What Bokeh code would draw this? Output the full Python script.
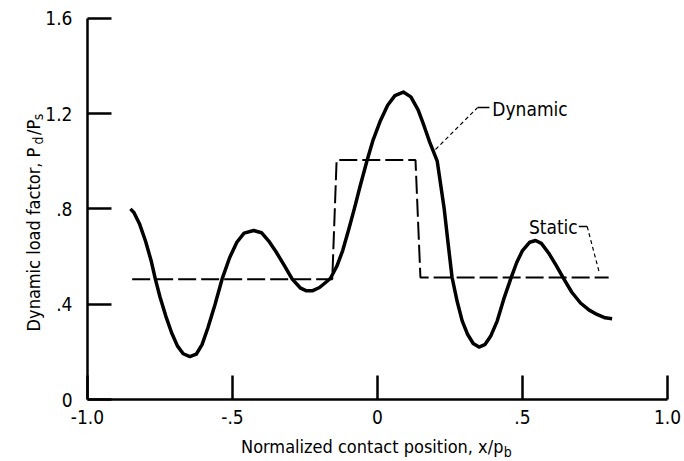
import math
from bokeh.plotting import figure
from bokeh.models import FixedTicker, Label, Range1d
from bokeh.core.properties import value
from bokeh.embed import file_html
from bokeh.resources import INLINE

# ---- data ----
dyn_x = [-0.852, -0.84, -0.82, -0.80, -0.78, -0.766, -0.75, -0.73, -0.71, -0.69,
         -0.67, -0.647, -0.625, -0.605, -0.585, -0.56, -0.536, -0.51, -0.485, -0.46,
         -0.427, -0.40, -0.375, -0.35, -0.32, -0.294, -0.265, -0.245, -0.225, -0.20,
         -0.18, -0.162, -0.14, -0.12, -0.10, -0.08, -0.06, -0.036, -0.015, 0.01,
         0.035, 0.06, 0.089, 0.115, 0.14, 0.16, 0.18, 0.206, 0.23, 0.243,
         0.257, 0.275, 0.292, 0.31, 0.33, 0.35, 0.37, 0.39, 0.413, 0.435,
         0.459, 0.48, 0.50, 0.525, 0.545, 0.565, 0.59, 0.615, 0.643, 0.67,
         0.70, 0.73, 0.757, 0.785, 0.809]
dyn_y = [0.800, 0.785, 0.735, 0.665, 0.58, 0.505, 0.43, 0.35, 0.28, 0.225,
         0.192, 0.180, 0.19, 0.23, 0.30, 0.40, 0.505, 0.595, 0.66, 0.698,
         0.709, 0.70, 0.665, 0.62, 0.56, 0.505, 0.467, 0.456, 0.456, 0.47,
         0.49, 0.509, 0.56, 0.625, 0.71, 0.80, 0.895, 1.003, 1.09, 1.17,
         1.235, 1.275, 1.290, 1.27, 1.215, 1.15, 1.08, 1.0, 0.80, 0.66,
         0.513, 0.41, 0.33, 0.275, 0.235, 0.22, 0.23, 0.265, 0.33, 0.42,
         0.505, 0.575, 0.625, 0.66, 0.667, 0.655, 0.615, 0.565, 0.505, 0.45,
         0.405, 0.375, 0.357, 0.343, 0.339]

static_x = [-0.846, -0.156, -0.141, 0.131, 0.148, 0.797]
static_y = [0.505, 0.505, 1.005, 1.005, 0.512, 0.512]

x_ticks = [-1.0, -0.5, 0.0, 0.5, 1.0]
x_tick_labels = ["-1.0", "-.5", "0", ".5", "1.0"]
y_ticks = [0.0, 0.4, 0.8, 1.2, 1.6]
y_tick_labels = ["0", ".4", ".8", "1.2", "1.6"]

FONT = "DejaVu Sans Condensed"

W, H = 684, 461
# frame covers the whole canvas; axes are fixed at x=-1 and y=0
p = figure(width=W, height=H,
           x_range=Range1d(-1.3, 1.058621), y_range=Range1d(-0.260176, 1.674360),
           output_backend="svg", toolbar_location=None,
           min_border_left=0, min_border_right=0, min_border_top=0, min_border_bottom=0)
p.outline_line_color = None
p.grid.visible = False
p.background_fill_color = "white"
p.border_fill_color = "white"

p.xaxis.fixed_location = 0.0
p.yaxis.fixed_location = -1.0
p.xaxis.bounds = (-1.0, 1.0)
p.yaxis.bounds = (0.0, 1.6)

for ax, ticks, labels in ((p.xaxis[0], x_ticks, x_tick_labels), (p.yaxis[0], y_ticks, y_tick_labels)):
    ax.ticker = FixedTicker(ticks=ticks)
    ax.major_label_overrides = {t: l for t, l in zip(ticks, labels)}
    ax.minor_tick_line_color = None
    ax.major_tick_in = 24
    ax.major_tick_out = 0
    ax.axis_line_width = 2.5
    ax.major_tick_line_width = 2.5
    ax.axis_line_color = "black"
    ax.major_tick_line_color = "black"
    ax.major_label_text_font = FONT
    ax.major_label_text_font_size = "19px"
    ax.major_label_text_color = "black"
p.yaxis.major_label_standoff = 15
p.xaxis.major_label_standoff = 10

# static (dashed) and dynamic (solid) curves
p.line(static_x, static_y, line_color="black", line_width=2, line_dash="18 5")
p.line(dyn_x, dyn_y, line_color="black", line_width=3.5, line_join="round")

# leader lines
p.line([0.2, 0.345], [1.049, 1.225], line_color="black", line_width=1.2, line_dash="4 3")
p.line([0.345, 0.386], [1.225, 1.225], line_color="black", line_width=1.5)
p.line([0.694, 0.723], [0.726, 0.726], line_color="black", line_width=1.5)
p.line([0.723, 0.766], [0.726, 0.527], line_color="black", line_width=1.2, line_dash="4 3")

p.text(x=[0.396], y=[1.221], text=["Dynamic"], text_font=value(FONT), text_font_size="19px",
       text_baseline="middle", text_align="left", text_color="black")
p.text(x=[0.522], y=[0.723], text=["Static"], text_font=value(FONT), text_font_size="19px",
       text_baseline="middle", text_align="left", text_color="black")

# axis titles (with subscripts)
def lab(x, y, t, size, align, angle=0.0):
    p.add_layout(Label(x=x, y=y, text=t, text_font=FONT, text_font_size=size,
                       text_align=align, text_baseline="alphabetic", angle=angle,
                       text_color="black"))

lab(0.452, -0.1972, "Normalized contact position,  x/p", "18px", "right")
lab(0.4355, -0.2224, "b", "14px", "left")

A = math.pi / 2
lab(-1.1862, 1.0785, "Dynamic load factor,  P", "18px", "right", A)
lab(-1.1715, 1.0701, "d", "14px", "left", A)
lab(-1.1862, 1.1100, "/P", "18px", "left", A)
lab(-1.1715, 1.1723, "s", "14px", "left", A)

open("out.html", "w").write(file_html(p, INLINE))
